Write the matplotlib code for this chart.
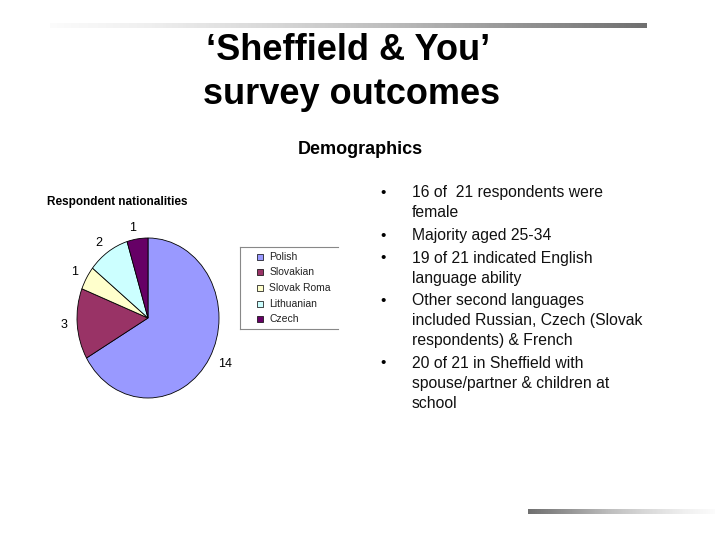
import numpy as np
import matplotlib
matplotlib.use("Agg")
from matplotlib import pyplot as plt

plt.rcParams['font.family'] = ['Liberation Sans', 'DejaVu Sans']

# Duomenys
nationalities = ["Polish", "Slovakian", "Slovak Roma", "Lithuanian", "Czech"]
counts = [14, 3, 1, 2, 1]
colors = ["#9999FF", "#993366", "#FFFFCC", "#CCFFFF", "#660066"]

bullets = [
    "16 of  21 respondents were\nfemale",
    "Majority aged 25-34",
    "19 of 21 indicated English\nlanguage ability",
    "Other second languages\nincluded Russian, Czech (Slovak\nrespondents) & French",
    "20 of 21 in Sheffield with\nspouse/partner & children at\nschool",
]

W, H = 720, 540
fig = plt.figure(figsize=(7.2, 5.4), dpi=100)


# pikseliai -> figuros koordinates
def fx(x):
    return x / W


def fy(y):
    return 1 - y / H


def add_bar(x0, x1, y0, y1, reverse=False):
    ax = fig.add_axes([fx(x0), fy(y1), fx(x1) - fx(x0), (y1 - y0) / H])
    g = np.linspace(0, 1, 256)
    if reverse:
        g = g[::-1]
    ax.imshow(g[None, :], aspect="auto", cmap="Greys", vmin=-0.05, vmax=1.6)
    ax.axis("off")


# virsutine ir apatine juostos
add_bar(50, 647, 23, 28)
add_bar(528, 715, 509, 514, reverse=True)

# antrastes
fig.text(fx(348), fy(50), "\u2018Sheffield & You\u2019", ha="center", va="center",
         fontsize=26, fontweight="bold")
fig.text(fx(352), fy(95), "survey outcomes", ha="center", va="center",
         fontsize=26, fontweight="bold")
fig.text(fx(360), fy(150), "Demographics", ha="center", va="center",
         fontsize=13, fontweight="bold")

# diagramos pavadinimas
fig.text(fx(47), fy(202), "Respondent nationalities", ha="left", va="center",
         fontsize=8.5, fontweight="bold")

# pyrago diagrama (siek tiek istempta vertikaliai)
cx, cy, rx, ry = 148, 318, 71, 80
ax = fig.add_axes([fx(cx - rx), fy(cy + ry), 2 * rx / W, 2 * ry / H])
wedges, texts = ax.pie(counts, labels=[str(c) for c in counts], colors=colors,
                       startangle=90, counterclock=False, labeldistance=1.14,
                       wedgeprops=dict(edgecolor="black", linewidth=0.6),
                       textprops=dict(fontsize=9))
ax.set_aspect("auto")
ax.set_xlim(-1, 1)
ax.set_ylim(-1, 1)

# legenda
lax = fig.add_axes([fx(240), fy(329), (338 - 240) / W, (329 - 247) / H])
lax.set_xlim(0, 1)
lax.set_ylim(0, 1)
for s in ["top", "bottom", "left"]:
    lax.spines[s].set_color("#888888")
    lax.spines[s].set_linewidth(0.8)
lax.spines["right"].set_visible(False)
lax.set_xticks([])
lax.set_yticks([])
for i, (name, c) in enumerate(zip(nationalities, colors)):
    yy = 0.88 - i * 0.19
    lax.scatter([0.2], [yy], marker="s", s=20, color=c, edgecolors="black",
                linewidths=0.5)
    lax.text(0.3, yy, name, va="center", ha="left", fontsize=7.5, color="#222222")

# punktai
line_h = 19.8
y = 193
for b in bullets:
    lines = b.split("\n")
    fig.text(fx(383), fy(y), "\u2022", ha="center", va="center", fontsize=11)
    for ln in lines:
        fig.text(fx(412), fy(y), ln, ha="left", va="center", fontsize=11.3,
                 color="#111111")
        y += line_h
    y += 3

fig.savefig("out.png", dpi=100)
